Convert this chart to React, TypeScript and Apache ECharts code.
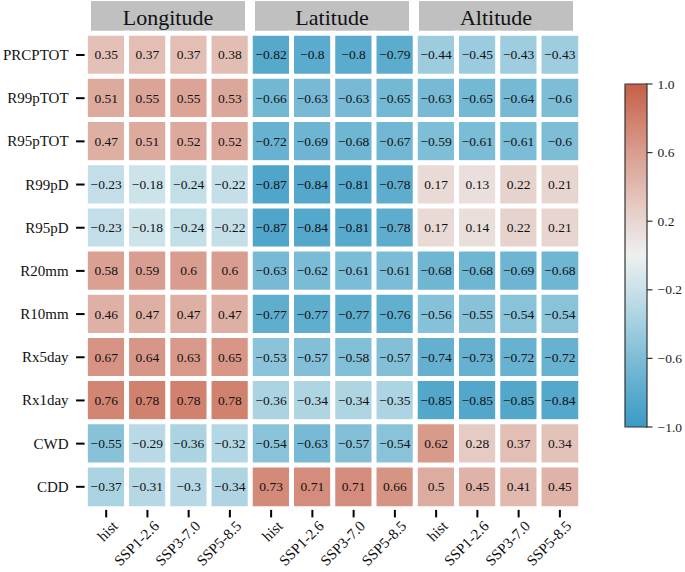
import React, { useEffect, useRef } from "react";
import * as echarts from "echarts";

const panels = ["Longitude", "Latitude", "Altitude"];
const scenarios = ["hist", "SSP1-2.6", "SSP3-7.0", "SSP5-8.5"];
const indices = ["PRCPTOT", "R99pTOT", "R95pTOT", "R99pD", "R95pD", "R20mm", "R10mm", "Rx5day", "Rx1day", "CWD", "CDD"];
const colorbarTicks = [-1, -0.6, -0.2, 0.2, 0.6, 1];

const longitude = [
  [0.35, 0.37, 0.37, 0.38],
  [0.51, 0.55, 0.55, 0.53],
  [0.47, 0.51, 0.52, 0.52],
  [-0.23, -0.18, -0.24, -0.22],
  [-0.23, -0.18, -0.24, -0.22],
  [0.58, 0.59, 0.6, 0.6],
  [0.46, 0.47, 0.47, 0.47],
  [0.67, 0.64, 0.63, 0.65],
  [0.76, 0.78, 0.78, 0.78],
  [-0.55, -0.29, -0.36, -0.32],
  [-0.37, -0.31, -0.3, -0.34],
];
const latitude = [
  [-0.82, -0.8, -0.8, -0.79],
  [-0.66, -0.63, -0.63, -0.65],
  [-0.72, -0.69, -0.68, -0.67],
  [-0.87, -0.84, -0.81, -0.78],
  [-0.87, -0.84, -0.81, -0.78],
  [-0.63, -0.62, -0.61, -0.61],
  [-0.77, -0.77, -0.77, -0.76],
  [-0.53, -0.57, -0.58, -0.57],
  [-0.36, -0.34, -0.34, -0.35],
  [-0.54, -0.63, -0.57, -0.54],
  [0.73, 0.71, 0.71, 0.66],
];
const altitude = [
  [-0.44, -0.45, -0.43, -0.43],
  [-0.63, -0.65, -0.64, -0.6],
  [-0.59, -0.61, -0.61, -0.6],
  [0.17, 0.13, 0.22, 0.21],
  [0.17, 0.14, 0.22, 0.21],
  [-0.68, -0.68, -0.69, -0.68],
  [-0.56, -0.55, -0.54, -0.54],
  [-0.74, -0.73, -0.72, -0.72],
  [-0.85, -0.85, -0.85, -0.84],
  [0.62, 0.28, 0.37, 0.34],
  [0.5, 0.45, 0.41, 0.45],
];
const panelValues = [longitude, latitude, altitude];

const paletteColors = [
  "#3a9bc5", "#5aabcd", "#7dbdd6", "#a4d0e0", "#c9e1e9", "#eef0f0",
  "#e8d6d1", "#e1bab0", "#d99d8f", "#d07f6c", "#c65f48",
];

const FONT = "'Liberation Serif', 'Times New Roman', serif";
const fmt = (v: any) => String(v).replace("-", "\u2212");

export default function App() {
  const ref = useRef<HTMLDivElement>(null);
  useEffect(() => {
    document.body.style.margin = "0";
    if (!ref.current) return;
    const chart = echarts.init(ref.current, undefined, { renderer: "svg" });

    const gridLefts = [85.5, 250.5, 415.5];
    const gridW = 165;
    const gridTop = 33.4;
    const gridH = 475;

    const grids: any[] = gridLefts.map((l) => ({ left: l, top: gridTop, width: gridW, height: gridH }));
    grids.push({ left: 625, top: 84, width: 22, height: 343 });

    const xAxes: any[] = panels.map((_, i) => ({
      type: "category",
      gridIndex: i,
      data: scenarios,
      position: "bottom",
      axisLine: { show: false },
      axisTick: { show: false },
      axisLabel: { show: false },
      splitLine: { show: false },
    }));
    xAxes.push({ type: "value", gridIndex: 3, show: false, min: 0, max: 1 });

    const yAxes: any[] = panels.map((_, i) => ({
      type: "category",
      gridIndex: i,
      data: indices,
      inverse: true,
      axisLine: { show: false },
      axisTick: { show: false },
      axisLabel: { show: i === 0, interval: 0, fontFamily: FONT, fontSize: 15, color: "#111", margin: 17 },
      splitLine: { show: false },
    }));
    yAxes.push({
      type: "value",
      gridIndex: 3,
      min: -1,
      max: 1,
      interval: 0.4,
      position: "right",
      axisLine: { show: false },
      axisTick: { show: false },
      axisLabel: {
        fontFamily: FONT,
        fontSize: 13.5,
        color: "#222",
        margin: 12,
        formatter: (v: number) => fmt(Number(v).toFixed(1)),
      },
      splitLine: { show: false },
    });

    const series: any[] = panelValues.map((vals, i) => {
      const data: any[] = [];
      vals.forEach((row, r) => row.forEach((v, c) => data.push([c, r, v])));
      return {
        type: "heatmap",
        xAxisIndex: i,
        yAxisIndex: i,
        data,
        itemStyle: { borderColor: "#fff", borderWidth: 5 },
        label: {
          show: true,
          fontFamily: FONT,
          fontSize: 13.5,
          color: "#111",
          formatter: (p: any) => fmt(p.value[2]),
        },
        emphasis: { disabled: true },
      };
    });

    // x-axis tick marks (each panel)
    panels.forEach((_, i) => {
      series.push({
        type: "custom",
        xAxisIndex: i,
        yAxisIndex: i,
        clip: false,
        silent: true,
        z: 10,
        data: scenarios.map((_, c) => [c, indices.length - 1]),
        renderItem: (params: any, api: any) => {
          const pt = api.coord([api.value(0), api.value(1)]);
          const bottom = params.coordSys.y + params.coordSys.height;
          return {
            type: "rect",
            shape: { x: pt[0] - 1, y: bottom + 1.5, width: 2, height: 7.5 },
            style: { fill: "#000" },
          };
        },
      });
      // rotated scenario labels
      series.push({
        type: "custom",
        xAxisIndex: i,
        yAxisIndex: i,
        clip: false,
        silent: true,
        data: scenarios.map((_, c) => [c, indices.length - 1]),
        renderItem: (params: any, api: any) => {
          const pt = api.coord([api.value(0), api.value(1)]);
          const bottom = params.coordSys.y + params.coordSys.height;
          return {
            type: "text",
            x: pt[0] + 9,
            y: bottom + 15,
            rotation: Math.PI / 4,
            style: {
              text: scenarios[params.dataIndex],
              fontFamily: FONT,
              fontSize: 15,
              fill: "#111",
              align: "right",
              verticalAlign: "middle",
            },
          };
        },
      });
    });
    // y-axis tick marks on first panel
    series.push({
      type: "custom",
      xAxisIndex: 0,
      yAxisIndex: 0,
      clip: false,
      silent: true,
      data: indices.map((_, r) => [0, r]),
      renderItem: (params: any, api: any) => {
        const pt = api.coord([api.value(0), api.value(1)]);
        const left = params.coordSys.x;
        return {
          type: "line",
          shape: { x1: left - 9.5, y1: pt[1], x2: left - 1, y2: pt[1] },
          style: { stroke: "#000", lineWidth: 2 },
        };
      },
    });
    // colorbar ticks
    series.push({
      type: "custom",
      xAxisIndex: 3,
      yAxisIndex: 3,
      clip: false,
      silent: true,
      data: colorbarTicks.map((v) => [0, v]),
      renderItem: (params: any, api: any) => {
        const pt = api.coord([0, api.value(1)]);
        const right = params.coordSys.x + params.coordSys.width;
        return {
          type: "line",
          shape: { x1: right, y1: pt[1], x2: right + 7, y2: pt[1] },
          style: { stroke: "#333", lineWidth: 1.2 },
        };
      },
    });

    const graphics: any[] = [];
    const stripX = [91, 255, 419];
    stripX.forEach((x, i) => {
      graphics.push({
        type: "rect",
        shape: { x, y: 1, width: 154, height: 31 },
        style: { fill: "#c0c0c0" },
      });
      graphics.push({
        type: "text",
        x: x + 77,
        y: 17,
        style: {
          text: panels[i],
          fontFamily: FONT,
          fontSize: 22,
          fill: "#111",
          align: "center",
          verticalAlign: "middle",
        },
      });
    });
    graphics.push({
      type: "rect",
      z: 100,
      shape: { x: 625, y: 84, width: 22, height: 343 },
      style: { fill: "none", stroke: "#333", lineWidth: 1.2 },
    });

    chart.setOption({
      animation: false,
      backgroundColor: "#fff",
      grid: grids,
      xAxis: xAxes,
      yAxis: yAxes,
      visualMap: {
        type: "continuous",
        min: -1,
        max: 1,
        seriesIndex: [0, 1, 2],
        calculable: false,
        show: true,
        left: 625,
        top: 84,
        padding: 0,
        itemWidth: 22,
        itemHeight: 343,
        text: ["", ""],
        inRange: { color: paletteColors },
      },
      graphic: graphics,
      series,
    });
    return () => chart.dispose();
  }, []);
  return <div ref={ref} style={{ width: 685, height: 572 }} />;
}
